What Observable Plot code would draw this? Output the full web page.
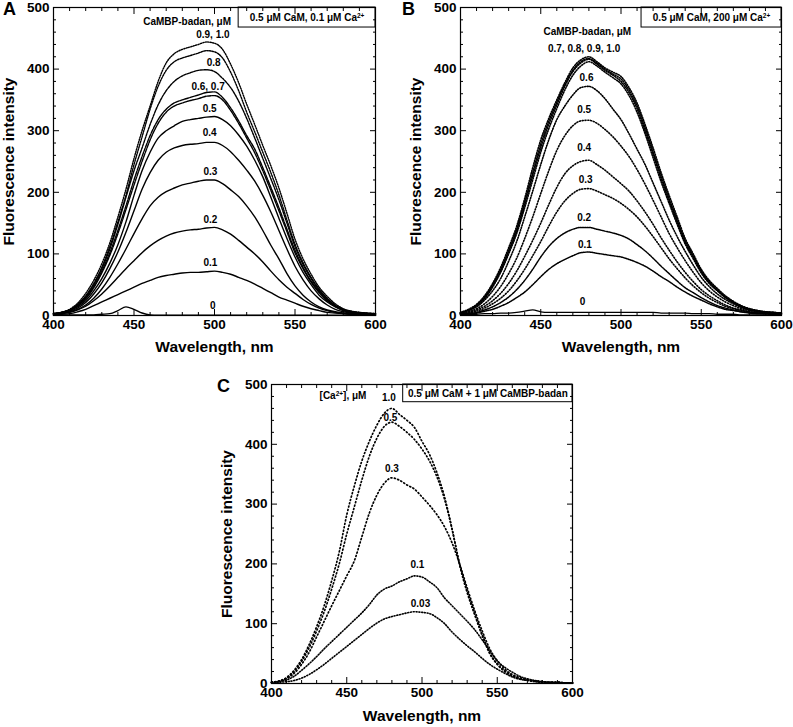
<!DOCTYPE html>
<html><head><meta charset="utf-8">
<script src="https://cdn.jsdelivr.net/npm/d3@7"></script>
<script src="https://cdn.jsdelivr.net/npm/@observablehq/plot@0.6"></script>
<style>
body{margin:0;background:#fff;}
#root{position:relative;width:793px;height:727px;overflow:hidden;font-family:"Liberation Sans",Arial,Helvetica,sans-serif;color:#000;}
.panel{position:absolute;}
.letter{position:absolute;font-weight:bold;font-size:18px;line-height:18px;}
</style></head>
<body><div id="root"></div>
<script>
// ---------- data ----------
const wavelengths = [400,405,410,415,420,425,430,435,440,445,450,455,460,465,470,475,480,485,490,495,500,505,510,515,520,525,530,535,540,545,550,555,560,565,570,575,580,585,590,595,600];
const xMajorTicks = [400,450,500,550,600];
const xMinorTicks = [410,420,430,440,460,470,480,490,510,520,530,540,560,570,580,590];
const yMajorTicks = [0,100,200,300,400,500];
const yMinorTicks = [20,40,60,80,120,140,160,180,220,240,260,280,320,340,360,380,420,440,460,480];

// Panel A: 0.5 uM CaM, 0.1 uM Ca2+, CaMBP-badan (uM)
const A_00 = [1,1,1,1,1,1,2,3,8,14,10,4,1,0.5,0.5,0.5,0.5,0.5,0.5,0.5,0.5,0.5,0.5,0.5,0.5,0.5,0.5,0.5,0.5,0.5,0.5,0.5,0.5,0.5,0.5,0.5,0.5,0.5,0.5,0.5,0.5];
const A_01 = [1,2,3,6,10,16,22,28,34,40,46,52,57,62,65,67,69,70,70,71,72,70,67,62,57,51,44,37,30,25,20,15,11,8,5,4,3,2,1,1,1];
const A_02 = [2,3,5,9,15,24,35,48,62,76,89,102,113,122,129,134,137,139,140,142,143,139,132,122,111,100,87,72,58,46,36,26,18,12,8,5,3,2,2,1,1];
const A_03 = [2,3,6,10,17,28,43,62,84,108,133,157,178,192,201,207,212,215,218,220,220,214,204,193,178,160,138,114,92,68,48,33,22,14,9,6,4,3,2,2,1];
const A_04 = [2,4,7,12,21,35,53,76,103,135,170,205,232,252,265,272,276,278,279,281,281,276,266,252,236,218,195,168,138,108,80,58,40,27,17,10,6,4,3,2,2];
const A_05 = [3,4,8,14,24,40,60,85,115,152,195,235,265,288,300,308,315,318,320,322,323,318,308,293,275,252,225,192,158,125,95,70,50,33,22,14,8,5,4,3,2];
const A_06 = [3,5,9,16,27,45,69,98,133,172,212,250,285,312,330,340,345,349,352,356,357,350,333,312,288,264,235,203,170,136,102,76,54,37,24,15,9,6,4,3,3];
const A_07 = [3,5,9,16,28,47,72,102,138,178,220,258,292,318,335,345,350,354,358,362,363,354,337,316,292,270,240,208,175,140,106,78,56,39,25,15,9,6,4,3,3];
const A_08 = [3,5,9,17,30,50,76,108,148,192,235,272,310,342,365,380,389,394,398,399,396,385,370,348,320,288,255,222,188,150,112,83,60,41,27,16,10,6,4,3,3];
const A_09 = [3,5,9,18,32,52,78,112,152,195,245,290,335,372,398,412,418,422,426,430,428,418,395,365,330,298,265,232,196,155,116,86,62,43,28,17,10,7,5,4,3];
const A_10 = [3,5,10,20,36,57,84,118,160,205,255,300,340,380,410,425,432,436,440,444,442,432,408,378,343,310,276,243,207,166,124,92,67,46,31,19,11,7,5,4,3];

// Panel B: 0.5 uM CaM, 200 uM Ca2+
const B_00 = [1,2,2,3,3,4,4,5,7,9,6,5,5,5,5,5,5,5,5,5,5,5,5,5,5,4,4,4,4,3,3,3,2,2,2,1,1,1,1,1,1];
const B_01 = [2,3,4,7,10,15,21,29,38,50,63,75,84,91,97,102,103,101,99,97,95,91,86,80,72,63,55,46,38,31,25,19,14,10,8,6,4,3,3,2,2];
const B_02 = [2,3,5,9,14,21,30,42,57,75,95,112,125,134,140,143,143,140,137,134,130,124,115,105,93,80,68,56,45,37,29,22,16,12,9,6,5,4,3,2,2];
const B_03 = [2,4,7,12,19,28,40,56,75,97,120,145,168,186,198,205,206,202,196,190,182,172,160,145,128,110,92,76,61,48,37,28,21,15,11,8,6,4,3,3,2];
const B_04 = [3,5,9,15,24,36,52,72,96,122,150,180,208,230,243,250,252,245,236,225,214,202,186,168,148,126,106,87,70,55,42,32,24,17,12,9,6,5,4,3,2];
const B_05 = [3,6,11,19,31,47,68,93,125,160,198,235,268,292,308,316,317,312,302,290,275,258,237,213,187,160,133,110,89,70,53,40,30,22,16,11,8,6,4,3,3];
const B_06 = [4,8,14,25,40,60,88,120,160,202,245,285,318,340,358,370,372,365,352,335,318,295,270,245,215,185,155,128,104,82,62,47,35,26,19,13,9,7,5,4,3];
const B_07 = [4,8,15,27,46,70,100,133,175,220,265,303,336,366,390,405,412,405,395,386,376,357,330,295,256,217,182,148,116,92,69,52,40,29,21,14,10,7,5,4,4];
const B_08 = [4,9,16,29,48,72,103,137,180,227,272,310,342,372,396,410,416,408,398,390,380,362,336,300,262,222,186,152,119,95,71,54,41,30,21,15,10,7,6,5,4];
const B_09 = [5,9,17,30,50,75,106,140,185,232,278,315,346,375,398,412,417,410,400,392,384,366,340,305,266,227,190,155,122,97,73,55,42,31,22,15,11,8,6,5,4];
const B_10 = [5,10,18,32,52,78,110,145,190,240,285,320,350,378,402,415,420,412,402,395,388,370,345,310,272,232,195,160,125,100,75,57,44,32,23,16,11,8,6,5,4];

// Panel C: 0.5 uM CaM + 1 uM CaMBP-badan, [Ca2+] (uM)
const C_003 = [1,2,3,5,9,15,23,32,42,52,62,72,82,92,101,108,112,115,118,120,119,117,110,100,86,74,63,53,42,32,24,17,11,7,5,3,2,2,1,1,1];
const C_01 = [2,3,6,12,22,33,45,58,70,82,94,106,118,132,148,158,163,170,175,180,178,170,160,143,130,117,104,90,73,55,38,27,19,12,8,5,3,2,2,1,1];
const C_03 = [2,4,8,17,32,52,78,104,130,155,180,205,245,285,315,335,344,340,332,325,312,298,282,262,235,200,160,122,88,58,38,24,15,10,6,4,3,2,2,1,1];
const C_05 = [2,4,9,20,37,60,88,120,158,200,250,295,340,380,410,430,437,430,420,408,392,372,345,308,258,200,155,117,82,52,33,21,13,8,6,4,3,2,2,1,1];
const C_10 = [2,4,10,22,40,65,95,130,172,220,282,330,372,405,432,452,460,450,440,428,405,383,352,312,258,198,152,115,80,50,32,20,13,8,6,4,3,2,2,1,1];

// annotation labels
const A_labelText = ["CaMBP-badan, μM","0.9, 1.0","0.8","0.6, 0.7","0.5","0.4","0.3","0.2","0.1","0"];
const A_labelX = [483,499,499.5,496,497,497,497.5,497.5,497.5,499];
const A_labelY = [476,456,411,372,336,297,234,156,86,15];
const B_labelText = ["CaMBP-badan, μM","0.7, 0.8, 0.9, 1.0","0.6","0.5","0.4","0.3","0.2","0.1","0"];
const B_labelX = [479,477,478.5,477,477,478,477,477.5,476];
const B_labelY = [460,433,386,334,273,220,158,115,23];
const C_labelText = ["[Ca^{2+}], μM","1.0","0.5","0.3","0.1","0.03"];
const C_labelX = [447.5,478,479,480,497,499];
const C_labelY = [481.6,478,445,359,198,133];
const boxText = ["0.5 μM CaM, 0.1 μM Ca^{2+}","0.5 μM CaM, 200 μM Ca^{2+}","0.5 μM CaM + 1 μM CaMBP-badan"];
const boxLeft = [515,512.8,487.5];
const boxBottom = [467.5,467.5,470.4];

// ---------- drawing ----------
const FONT = '"Liberation Sans", Arial, Helvetica, sans-serif';

function applySup(svg) {
  svg.querySelectorAll("text").forEach(t => {
    const s = t.textContent;
    if (!s.includes("^{")) return;
    while (t.firstChild) t.removeChild(t.firstChild);
    for (const p of s.split(/(\^\{[^}]*\})/)) {
      if (!p) continue;
      const ts = document.createElementNS("http://www.w3.org/2000/svg", "tspan");
      if (p.startsWith("^{")) {
        ts.textContent = p.slice(2, -1);
        ts.setAttribute("baseline-shift", "super");
        ts.setAttribute("font-size", "0.65em");
      } else ts.textContent = p;
      t.appendChild(ts);
    }
  });
}

function makePanel(o) {
  const marks = [];
  for (const s of o.series) {
    const pts = wavelengths.map((w, i) => ({w, v: s.values[i]}));
    marks.push(Plot.line(pts, {x: "w", y: "v", stroke: "black", strokeWidth: s.width, strokeDasharray: s.dash, curve: "monotone-x"}));
  }
  const labs = o.labelText.map((t, i) => ({t, x: o.labelX[i], y: o.labelY[i]}));
  marks.push(Plot.text(labs, {x: "x", y: "y", text: "t", fontSize: 10, fontWeight: "bold", fill: "black"}));
  const box = [{x1: boxLeft[o.idx], x2: 600, y1: boxBottom[o.idx], y2: 500, t: boxText[o.idx]}];
  marks.push(Plot.rect(box, {x1: "x1", x2: "x2", y1: "y1", y2: "y2", fill: "white", stroke: "black", strokeWidth: 1}));
  marks.push(Plot.text(box, {x: d => (d.x1 + d.x2) / 2, y: d => (d.y1 + d.y2) / 2, text: "t", fontSize: 10, fontWeight: "bold", fill: "black"}));
  // axes
  marks.push(
    Plot.axisX(xMajorTicks, {anchor: "bottom", tickSize: 0, tickPadding: 4, fontSize: 13.5, fontWeight: "bold", label: null}),
    Plot.axisX(xMajorTicks, {anchor: "bottom", tickSize: -6, fill: "none", label: null}),
    Plot.axisX(xMinorTicks, {anchor: "bottom", tickSize: -3, fill: "none", label: null}),
    Plot.axisX(xMajorTicks, {anchor: "top", tickSize: -6, fill: "none", label: null}),
    Plot.axisX(xMinorTicks, {anchor: "top", tickSize: -3, fill: "none", label: null}),
    Plot.axisY(yMajorTicks, {anchor: "left", tickSize: 0, tickPadding: 4, fontSize: 13.5, fontWeight: "bold", label: null}),
    Plot.axisY(yMajorTicks, {anchor: "left", tickSize: -6, fill: "none", label: null}),
    Plot.axisY(yMinorTicks, {anchor: "left", tickSize: -3, fill: "none", label: null}),
    Plot.axisY(yMajorTicks, {anchor: "right", tickSize: -6, fill: "none", label: null}),
    Plot.axisY(yMinorTicks, {anchor: "right", tickSize: -3, fill: "none", label: null}),
    Plot.frame({stroke: "black", strokeWidth: 1.2}),
    Plot.text(["Wavelength, nm"], {frameAnchor: "bottom", dy: o.xTitleDy, textAnchor: "middle", lineAnchor: "middle", fontSize: 15.5, fontWeight: "bold", fill: "black"}),
    Plot.text(["Fluorescence intensity"], {frameAnchor: "left", dx: -44, rotate: -90, textAnchor: "middle", lineAnchor: "middle", fontSize: 15.5, fontWeight: "bold", fill: "black"})
  );
  const svg = Plot.plot({
    width: o.width, height: o.height,
    marginLeft: o.ml, marginRight: o.mr, marginTop: o.mt, marginBottom: o.mb,
    x: {domain: [400, 600]},
    y: {domain: [0, 500]},
    style: {fontFamily: FONT, color: "black", background: "transparent", overflow: "visible"},
    marks
  });
  applySup(svg);
  const div = document.createElement("div");
  div.className = "panel";
  div.style.left = o.left + "px";
  div.style.top = o.top + "px";
  div.appendChild(svg);
  return div;
}

const root = document.getElementById("root");
const solid = (values, w = 1.4) => ({values, width: w, dash: null});
const dashed = (values, d, w = 1.4) => ({values, width: w, dash: d});

root.appendChild(makePanel({
  idx: 0, left: 0, top: 0, width: 390, height: 365, ml: 53, mr: 15, mt: 7, mb: 50, xTitleDy: 32,
  series: [solid(A_00), solid(A_01), solid(A_02), solid(A_03), solid(A_04), solid(A_05),
           dashed(A_06, "4,1"), dashed(A_07, "4,1"), dashed(A_08, "2.5,1"), dashed(A_09, "1.6,1.2"), dashed(A_10, "1.2,1.3")],
  labelText: A_labelText, labelX: A_labelX, labelY: A_labelY
}));
root.appendChild(makePanel({
  idx: 1, left: 407, top: 0, width: 386, height: 365, ml: 53, mr: 12, mt: 7, mb: 50, xTitleDy: 32,
  series: [solid(B_00, 1.3), dashed(B_01, "1.3,1", 1.5), dashed(B_02, "1.3,1", 1.5), dashed(B_03, "1,1.8", 1.6),
           dashed(B_04, "1,1.8", 1.6), dashed(B_05, "1,1.8", 1.6), dashed(B_06, "1,1.6", 1.6),
           dashed(B_07, "1,1.6", 1.6), dashed(B_08, "1,1.6", 1.6), dashed(B_09, "1,1.6", 1.6), dashed(B_10, "1,1.6", 1.6)],
  labelText: B_labelText, labelX: B_labelX, labelY: B_labelY
}));
root.appendChild(makePanel({
  idx: 2, left: 218, top: 377, width: 369, height: 350, ml: 53, mr: 15, mt: 7, mb: 44, xTitleDy: 33,
  series: [dashed(C_003, "1,1.8", 1.6), dashed(C_01, "1,1.8", 1.6), dashed(C_03, "1,2.5", 1.7),
           dashed(C_05, "1,2.5", 1.7), dashed(C_10, "1,2.5", 1.7)],
  labelText: C_labelText, labelX: C_labelX, labelY: C_labelY
}));

for (const [t, x, y] of [["A", 3, 0], ["B", 402, 0], ["C", 217, 377]]) {
  const d = document.createElement("div");
  d.className = "letter";
  d.textContent = t;
  d.style.left = x + "px";
  d.style.top = y + "px";
  root.appendChild(d);
}
</script>
</body></html>
